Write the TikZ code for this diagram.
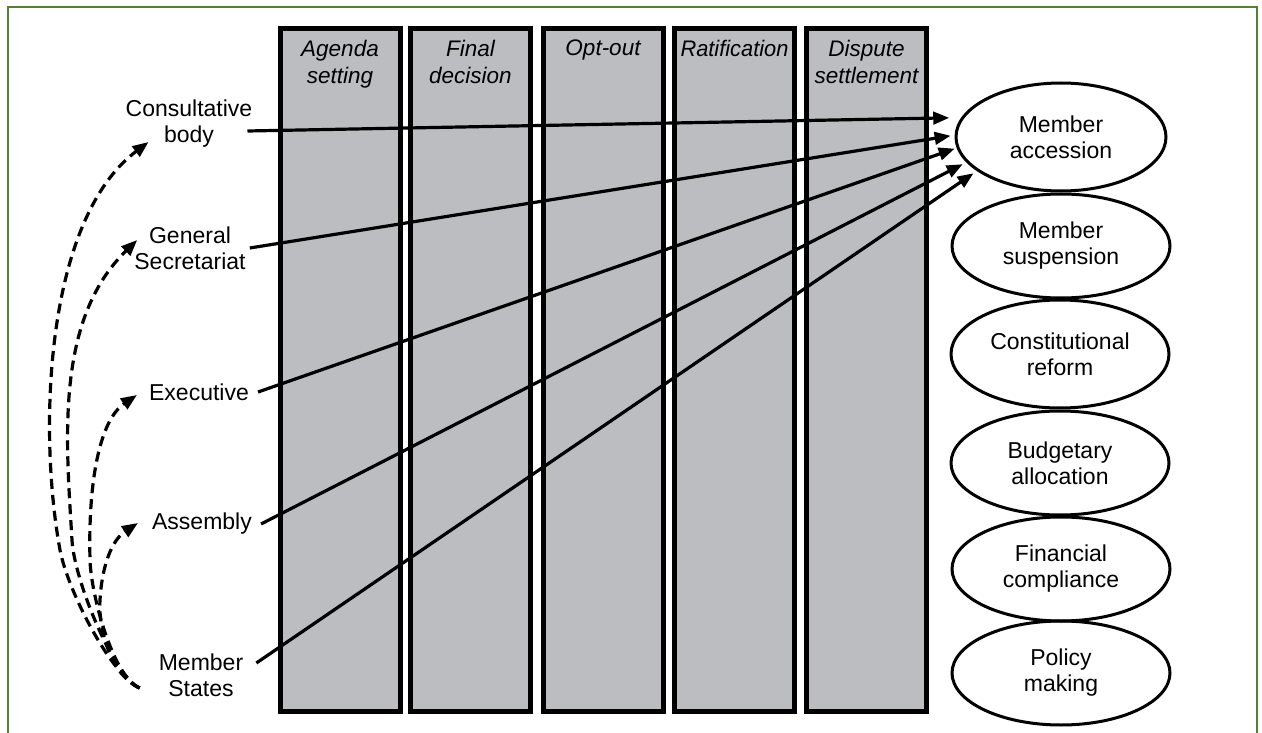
\documentclass[tikz,border=0pt]{standalone}
\usepackage{fontspec}
\setmainfont{Liberation Sans}
\usetikzlibrary{arrows.meta,shapes.geometric}
\definecolor{framegreen}{RGB}{84,130,53}
\definecolor{colgray}{RGB}{188,189,193}
\begin{document}
\begin{tikzpicture}[x=1pt,y=-1pt,
  colbox/.style={draw=black, fill=colgray, line width=5pt, minimum width=120pt, minimum height=682pt, inner sep=0pt, outer sep=0pt},
  head/.style={anchor=north, font=\fontsize{22.5}{27}\selectfont\itshape, align=center, inner sep=0pt},
  lbl/.style={font=\fontsize{23}{26}\selectfont, align=center, inner sep=4pt},
  oval/.style={ellipse, draw, line width=3pt, minimum width=218pt, minimum height=104pt, inner sep=0pt, font=\fontsize{23}{26}\selectfont, align=center},
  link/.style={line width=3.2pt, -{Triangle[length=16pt,width=12.5pt]}},
  dlink/.style={line width=3.2pt, dash pattern=on 10pt off 6pt, -{Triangle[length=16pt,width=12.5pt]}}
]
\useasboundingbox (0,0) rectangle (1262,733);
\draw[framegreen, line width=2pt] (8,745) -- (8,7) -- (1257,7) -- (1257,745);

% columns
\node[colbox] (c1) at (340,370) {};
\node[colbox] (c2) at (470.5,370) {};
\node[colbox] (c3) at (603,370) {};
\node[colbox] (c4) at (734.5,370) {};
\node[colbox] (c5) at (866.5,370) {};
\node[head] (h1) at ([yshift=-11pt]c1.north) {Agenda\\setting};
\node[head] (h2) at ([yshift=-11pt]c2.north) {Final\\decision};
\node[head] (h3) at ([yshift=-11pt]c3.north) {Opt-out};
\node[head, xscale=0.97] (h4) at ([yshift=-11pt]c4.north) {Ratification};
\node[head] (h5) at ([yshift=-11pt]c5.north) {Dispute\\settlement};

% outcome ellipses
\node[oval, minimum width=210pt, minimum height=108pt] (acc) at (1061,137) {Member\\accession};
\node[oval] (sus) at (1061,246) {Member\\suspension};
\node[oval, minimum height=108pt] (con) at (1060,354) {Constitutional\\reform};
\node[oval] (bud) at (1060,463) {Budgetary\\allocation};
\node[oval] (fin) at (1061,569) {Financial\\compliance};
\node[oval] (pol) at (1061,673) {Policy\\making};

% actors
\node[lbl] (cb) at (189,124) {Consultative\\body};
\node[lbl] (gs) at (190,248) {General\\Secretariat};
\node[lbl] (ex) at (199,392) {Executive};
\node[lbl] (as) at (202,524) {Assembly};
\node[lbl] (ms) at (201,675) {Member\\States};

% solid links
\draw[link, shorten >=12pt] ([xshift=-9pt,yshift=-7pt]cb.east) -- (acc.169);
\draw[link, shorten >=4pt] (gs.east) -- (acc.179);
\draw[link, shorten >=2pt] ([xshift=5pt]ex.east) -- (acc.186);
\draw[link, shorten >=4pt] ([xshift=5pt]as.east) -- (acc.195);
\draw[link, shorten >=4pt] ([xshift=9pt,yshift=12pt]ms.east) -- (acc.202);

% dashed links
\coordinate (mso) at ([xshift=-15pt,yshift=-13pt]ms.west);
\draw[dlink] (mso) .. controls (112,676) and (68,592) .. (60,550)
  .. controls (38,430) and (45,220) .. ([xshift=27pt,yshift=-18pt]cb.west);
\draw[dlink] (mso) .. controls (114,677) and (74,580) .. (72,540)
  .. controls (66,440) and (55,320) .. ([xshift=7pt,yshift=8pt]gs.west);
\draw[dlink] (mso) .. controls (113,677) and (91,595) .. (90,560)
  .. controls (88,480) and (100,420) .. ([xshift=-8pt,yshift=-3pt]ex.west);
\draw[dlink] (mso) .. controls (112,676) and (98,630) .. (100,600)
  .. controls (102,565) and (112,540) .. ([xshift=-10pt,yshift=1pt]as.west);
\end{tikzpicture}
\end{document}
